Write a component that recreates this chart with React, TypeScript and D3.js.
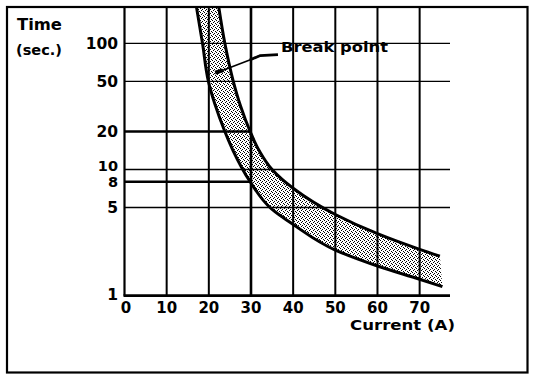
import React from "react";
import * as d3 from "d3";

// ---- data ----
const CURRENT_TICKS = [0, 10, 20, 30, 40, 50, 60, 70];
const TIME_TICKS = [100, 50, 20, 10, 8, 5, 1];
const GRID_TIMES = [100, 50, 10, 5]; // full-width grid lines
const REF_TIMES = [20, 8]; // reference lines ending at break current
const REF_CURRENT = 30;
const VERT_GRID = [10, 20, 30, 40, 50, 60, 70];

// upper (max time) curve
const UPPER_A = [22.2, 23.8, 25.8, 27.5, 29.8, 32, 35, 40, 50, 60, 70, 74.8];
const UPPER_T = [210, 100, 50, 32, 20, 14, 10, 7.1, 4.4, 3.1, 2.33, 2.06];
// lower (min time) curve
const LOWER_A = [16.9, 18.5, 19.9, 21.5, 23.8, 25.8, 29.8, 34.8, 40.2, 50, 60, 70, 75.4];
const LOWER_T = [210, 100, 50, 32.5, 20, 14, 8, 4.9, 3.63, 2.3, 1.72, 1.35, 1.18];

// "Break point" annotation leader (data units)
const LEADER_A = [23.2, 29.7, 32.2, 36.4];
const LEADER_T = [60.9, 73.8, 80, 81.5];
const BLOB_A = [21.5, 23.3];
const BLOB_T = [58.5, 61];

const FONT = "'DejaVu Sans', sans-serif";

export default function App() {
  const x = d3.scaleLinear().domain([0, 77.2]).range([124.5, 450]);
  const y = d3.scaleLog().domain([1, 194]).range([295.7, 7]);
  const [x0, x1] = x.range();
  const [yb, yt] = y.range();

  const line = d3
    .line<[number, number]>()
    .x((d) => x(d[0]))
    .y((d) => y(d[1]))
    .curve(d3.curveMonotoneY);

  const upperPts: [number, number][] = UPPER_A.map((a, i) => [a, UPPER_T[i]]);
  const lowerPts: [number, number][] = LOWER_A.map((a, i) => [a, LOWER_T[i]]);
  const upperPath = line(upperPts) as string;
  const lowerPath = line(lowerPts) as string;
  const lowerRev = (line([...lowerPts].reverse()) as string).replace(/^M/, "L");
  const bandPath = upperPath + lowerRev + "Z";

  const plain = d3.line<[number, number]>().x((d) => x(d[0])).y((d) => y(d[1]));
  const leaderPts: [number, number][] = LEADER_A.map((a, i) => [a, LEADER_T[i]]);
  const blobPts: [number, number][] = BLOB_A.map((a, i) => [a, BLOB_T[i]]);

  return (
    <svg
      width={544}
      height={382}
      style={{ position: "absolute", left: 0, top: 0, background: "#fff" }}
    >
      <defs>
        <pattern id="stipple" width={4} height={4} patternUnits="userSpaceOnUse">
          <rect x={0} y={0} width={1} height={1} fill="#000" />
          <rect x={2} y={1} width={1} height={1} fill="#000" />
          <rect x={1} y={2} width={1} height={1} fill="#000" />
          <rect x={3} y={3} width={1} height={1} fill="#000" />
        </pattern>
        <clipPath id="plot">
          <rect x={x0} y={yt} width={x1 - x0} height={yb - yt} />
        </clipPath>
      </defs>

      {/* outer frame */}
      <rect x={7} y={7} width={520.5} height={365.5} fill="none" stroke="#000" strokeWidth={2.2} />

      {/* band fill */}
      <path d={bandPath} fill="url(#stipple)" clipPath="url(#plot)" />

      {/* vertical grid */}
      {VERT_GRID.map((a) => (
        <line key={"v" + a} x1={x(a)} x2={x(a)} y1={yt} y2={yb} stroke="#000" strokeWidth={a === REF_CURRENT ? 2.6 : 2} />
      ))}
      {/* horizontal grid */}
      {GRID_TIMES.map((t) => (
        <line key={"h" + t} x1={x0} x2={x1} y1={y(t)} y2={y(t)} stroke="#000" strokeWidth={1.3} />
      ))}
      {REF_TIMES.map((t) => (
        <line key={"r" + t} x1={x0} x2={x(REF_CURRENT)} y1={y(t)} y2={y(t)} stroke="#000" strokeWidth={2.7} />
      ))}

      {/* axes */}
      <line x1={x0} x2={x0} y1={yt} y2={yb} stroke="#000" strokeWidth={2.2} />
      <line x1={x0 - 1} x2={x1} y1={yb} y2={yb} stroke="#000" strokeWidth={2.8} />

      {/* curves */}
      <g clipPath="url(#plot)">
        <path d={upperPath} fill="none" stroke="#000" strokeWidth={3} />
        <path d={lowerPath} fill="none" stroke="#000" strokeWidth={3} />
      </g>

      {/* leader */}
      <path d={plain(leaderPts.slice(0, 3)) as string} fill="none" stroke="#000" strokeWidth={1.6} />
      <path d={plain(leaderPts.slice(1)) as string} fill="none" stroke="#000" strokeWidth={2.8} />
      <path d={plain(blobPts) as string} fill="none" stroke="#000" strokeWidth={4} />
      <text x={281} y={52} fontFamily={FONT} fontWeight="bold" fontSize={14} textLength={107} lengthAdjust="spacingAndGlyphs">
        Break point
      </text>

      {/* y axis title */}
      <text x={17} y={30} fontFamily={FONT} fontWeight="bold" fontSize={15.5} textLength={45} lengthAdjust="spacingAndGlyphs">
        Time
      </text>
      <text x={16} y={55} fontFamily={FONT} fontWeight="bold" fontSize={14} textLength={46} lengthAdjust="spacingAndGlyphs">
        (sec.)
      </text>

      {/* y tick labels */}
      {TIME_TICKS.map((t) => (
        <text
          key={"yl" + t}
          x={118}
          y={y(t) + 5.5 - (t === 10 ? 4 : t === 1 ? 1.5 : 0)}
          textAnchor="end"
          fontFamily={FONT}
          fontWeight="bold"
          fontSize={t === 10 || t === 8 ? 14.5 : 15.5}
        >
          {t}
        </text>
      ))}

      {/* x tick labels */}
      {CURRENT_TICKS.map((a) => (
        <text
          key={"xl" + a}
          x={x(a) + (a === 0 ? 1.5 : 0)}
          y={yb + 17}
          textAnchor="middle"
          fontFamily={FONT}
          fontWeight="bold"
          fontSize={15}
        >
          {a}
        </text>
      ))}

      <text x={350} y={330} fontFamily={FONT} fontWeight="bold" fontSize={14.5} textLength={105} lengthAdjust="spacingAndGlyphs">
        Current (A)
      </text>
    </svg>
  );
}
